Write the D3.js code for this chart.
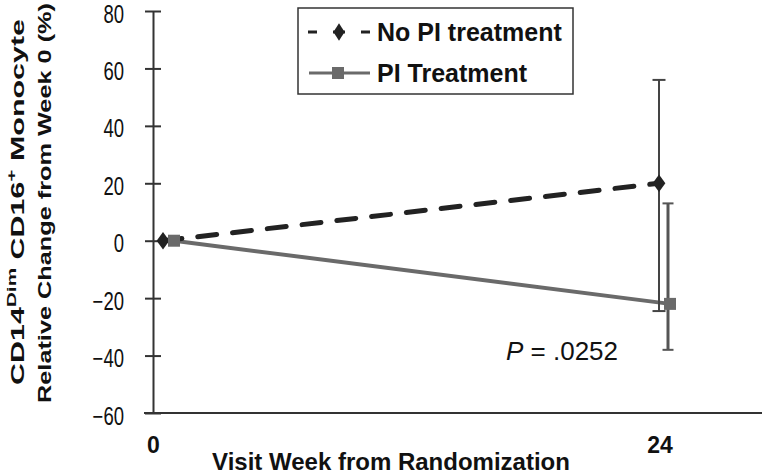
<!DOCTYPE html>
<html>
<head>
<meta charset="utf-8">
<script src="https://cdn.jsdelivr.net/npm/d3@7"></script>
<style>
  html, body { margin: 0; padding: 0; background: #fff; }
  svg { display: block; font-family: "Liberation Sans", Arial, sans-serif; }
</style>
</head>
<body>
<svg id="chart" width="764" height="476"></svg>
<script>
// ---- data ----
const weeks = [0, 24];
const weekLabels = ["0", "24"];
const noPI = [0, 20];
const noPILow = [0, -24.5];
const noPIHigh = [0, 56];
const piTreat = [0, -22];
const piLow = [0, -38];
const piHigh = [0, 13];
const yTicks = [-60, -40, -20, 0, 20, 40, 60, 80];
const seriesNames = ["No PI treatment", "PI Treatment"];
const pText = ".0252";

// ---- layout ----
const svg = d3.select("#chart");
const axisX = 153;
const y = d3.scaleLinear().domain([-60, 80]).range([413, 11]);
const x = d3.scaleLinear().domain([0, 24]).range([163, 659]);
const piDodge = 11;

const dark = "#222";
const gray = "#6a6a6a";

// y axis
const yAxis = d3.axisLeft(y).tickValues(yTicks).tickSize(8).tickSizeOuter(0).tickPadding(21)
  .tickFormat(d => d < 0 ? "\u2212" + Math.abs(d) : String(d));
const gy = svg.append("g").attr("transform", `translate(${axisX},0)`).call(yAxis);
gy.select(".domain").attr("stroke", "#333").attr("stroke-width", 2);
gy.selectAll(".tick line").attr("stroke", "#333").attr("stroke-width", 2).attr("x1", 8).attr("x2", -8);
gy.selectAll(".tick text")
  .attr("x", null).attr("dy", "0.36em")
  .attr("transform", "translate(-29,2) scale(0.74,1)")
  .attr("font-size", 25).attr("fill", "#111").attr("font-family", "Liberation Sans, Arial, sans-serif");

// x axis line
svg.append("line").attr("x1", 144).attr("x2", 762).attr("y1", y(-60)).attr("y2", y(-60))
  .attr("stroke", "#333").attr("stroke-width", 2);

// x tick labels
svg.selectAll(".xlab").data(weeks).enter().append("text")
  .attr("class", "xlab")
  .attr("x", (d, i) => i === 0 ? axisX + 0.5 : x(d) + 1)
  .attr("y", 453)
  .attr("text-anchor", "middle")
  .attr("font-size", 23).attr("font-weight", "bold").attr("fill", "#111")
  .text((d, i) => weekLabels[i]);

// x title
svg.append("text").attr("x", 391).attr("y", 470).attr("text-anchor", "middle")
  .attr("font-size", 24).attr("font-weight", "bold").attr("fill", "#111")
  .text("Visit Week from Randomization");

// y title (two lines, rotated, stretched along their length)
function yTitleLine(bx, cy, target, build) {
  const g = svg.append("g").attr("transform", `translate(${bx},${cy}) rotate(-90)`);
  const inner = g.append("g");
  const t = inner.append("text").attr("text-anchor", "middle")
    .attr("font-size", 19).attr("font-weight", "bold").attr("fill", "#111");
  build(t);
  const len = t.node().getComputedTextLength();
  inner.attr("transform", `scale(${target / len},1)`);
}
yTitleLine(24, 202, 366, t => {
  t.append("tspan").text("CD14");
  t.append("tspan").attr("font-size", 13).attr("dy", -8).text("Dim");
  t.append("tspan").attr("dy", 8).text(" CD16");
  t.append("tspan").attr("font-size", 13).attr("dy", -8).text("+");
  t.append("tspan").attr("dy", 8).text(" Monocyte");
});
yTitleLine(51, 203, 400, t => {
  t.text("Relative Change from Week 0 (%)");
});

// lines
const line = d3.line().x(d => d[0]).y(d => d[1]);
const ptsNo = weeks.map((w, i) => [x(w), y(noPI[i])]);
const ptsPI = weeks.map((w, i) => [x(w) + piDodge, y(piTreat[i])]);

svg.append("path").attr("d", line(ptsPI)).attr("fill", "none")
  .attr("stroke", gray).attr("stroke-width", 4);
svg.append("path").attr("d", line(ptsNo)).attr("fill", "none")
  .attr("stroke", dark).attr("stroke-width", 5).attr("stroke-dasharray", "19 16")
  .attr("stroke-linecap", "round");

// error bars
function errBar(cx, lo, hi, color, w, cap) {
  if (lo === hi) return;
  svg.append("line").attr("x1", cx).attr("x2", cx).attr("y1", y(lo)).attr("y2", y(hi))
    .attr("stroke", color).attr("stroke-width", w);
  [lo, hi].forEach(v => svg.append("line").attr("x1", cx - cap / 2).attr("x2", cx + cap / 2)
    .attr("y1", y(v)).attr("y2", y(v)).attr("stroke", color).attr("stroke-width", 2));
}
weeks.forEach((w, i) => errBar(x(w), noPILow[i], noPIHigh[i], "#444", 2, 13));
weeks.forEach((w, i) => errBar(x(w) + piDodge - 2, piLow[i], piHigh[i], "#555", 3, 11));

// markers
const diamond = d3.symbol().type(d3.symbolDiamond).size(90);
svg.selectAll(".dm").data(ptsNo).enter().append("path")
  .attr("d", diamond).attr("transform", d => `translate(${d[0]},${d[1]}) scale(1.25,1)`)
  .attr("fill", dark);
svg.selectAll(".sq").data(ptsPI).enter().append("rect")
  .attr("x", d => d[0] - 6).attr("y", d => d[1] - 6).attr("width", 12).attr("height", 12)
  .attr("fill", gray);

// P value
const pt = svg.append("text").attr("x", 506).attr("y", 360).attr("font-size", 26).attr("fill", "#111");
pt.append("tspan").attr("font-style", "italic").text("P");
pt.append("tspan").text(" = " + pText);

// legend
const lg = svg.append("g");
lg.append("rect").attr("x", 298).attr("y", 8).attr("width", 275).attr("height", 86)
  .attr("fill", "#fff").attr("stroke", "#333").attr("stroke-width", 1.5);
// entry 1
lg.append("line").attr("x1", 308).attr("x2", 370).attr("y1", 32).attr("y2", 32)
  .attr("stroke", dark).attr("stroke-width", 3).attr("stroke-dasharray", "9 16 12 16 9");
lg.append("path").attr("d", diamond).attr("transform", "translate(339,32) scale(1.1,1)").attr("fill", dark);
lg.append("text").attr("x", 377).attr("y", 41).attr("font-size", 25).attr("font-weight", "bold")
  .attr("fill", "#111").text(seriesNames[0]);
// entry 2
lg.append("line").attr("x1", 309).attr("x2", 370).attr("y1", 73).attr("y2", 73)
  .attr("stroke", gray).attr("stroke-width", 3);
lg.append("rect").attr("x", 332).attr("y", 67).attr("width", 12).attr("height", 12).attr("fill", gray);
lg.append("text").attr("x", 377).attr("y", 82).attr("font-size", 25).attr("font-weight", "bold")
  .attr("fill", "#111").text(seriesNames[1]);
</script>
</body>
</html>
